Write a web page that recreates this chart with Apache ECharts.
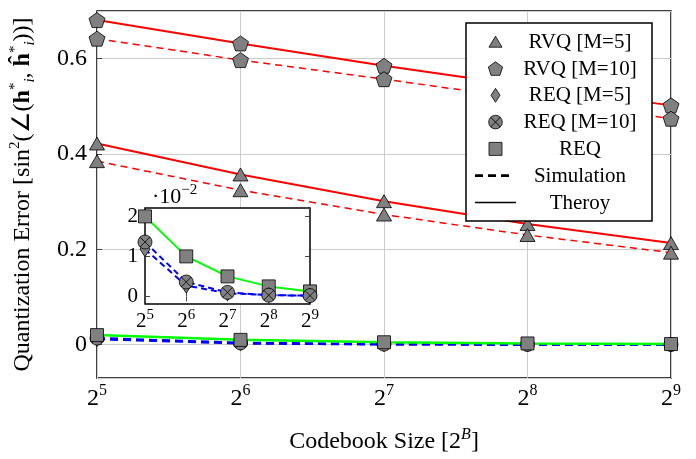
<!DOCTYPE html>
<html><head><meta charset="utf-8">
<script src="https://cdn.jsdelivr.net/npm/echarts@6/dist/echarts.min.js"></script>
<style>html,body{margin:0;padding:0;background:#fff}#c{width:696px;height:459px}</style>
</head><body><div id="c"></div>
<script>
// x categories: exponents of 2 (codebook size 2^B)
const categories = ['5', '6', '7', '8', '9'];
// RVQ M=10
const rvq10Theory = [0.681, 0.632, 0.585, 0.542, 0.502];
const rvq10Sim    = [0.642, 0.597, 0.557, 0.515, 0.474];
// RVQ M=5
const rvq5Theory  = [0.422, 0.357, 0.301, 0.253, 0.213];
const rvq5Sim     = [0.385, 0.324, 0.273, 0.230, 0.193];
// REQ
const reqTheory   = [0.0200, 0.0100, 0.0050, 0.0025, 0.00125];
const req5Sim     = [0.0118, 0.0027, 0.0008, 0.0003, 0.0002];
const req10Sim    = [0.0136, 0.0036, 0.0010, 0.0003, 0.0002];
// legend labels
const legendLabels = ['RVQ [M=5]', 'RVQ [M=10]', 'REQ [M=5]', 'REQ [M=10]', 'REQ', 'Simulation', 'Theroy'];

const FONT = 'Liberation Serif';
const GRAY = '#808080';
const pentagon = 'path://M0,-1L0.951,-0.309L0.588,0.809L-0.588,0.809L-0.951,-0.309Z';
const otimes = 'path://M-1,0A1,1 0 1,0 1,0A1,1 0 1,0 -1,0ZM-0.707,-0.707L0.707,0.707M0.707,-0.707L-0.707,0.707';
const markStyle = {color: GRAY, borderColor: '#000', borderWidth: 0.8};

function supRich(big, small) {
  return {
    b: {fontSize: big, fontFamily: FONT, color: '#000', lineHeight: Math.round(big * 1.3)},
    s: {fontSize: small, fontFamily: FONT, color: '#000', lineHeight: small, verticalAlign: 'top'}
  };
}
const powLabel = v => '{b|2}{s|' + v + '}';

function mk(name, data, opts) {
  return Object.assign({
    name: name, type: 'line', data: data,
    showAllSymbol: true, itemStyle: markStyle,
    emphasis: {disabled: true}, animation: false
  }, opts);
}

const series = [
  mk('RVQ10T', rvq10Theory, {symbol: pentagon, symbolSize: [16, 15], lineStyle: {color: '#ff0000', width: 2}}),
  mk('RVQ10S', rvq10Sim, {symbol: pentagon, symbolSize: [16, 15], lineStyle: {color: '#ff0000', width: 1.5, type: [7, 5]}}),
  mk('RVQ5T', rvq5Theory, {symbol: 'triangle', symbolSize: [15, 13], lineStyle: {color: '#ff0000', width: 2}}),
  mk('RVQ5S', rvq5Sim, {symbol: 'triangle', symbolSize: [15, 13], lineStyle: {color: '#ff0000', width: 1.5, type: [7, 5]}}),
  mk('REQ5S', req5Sim, {symbol: 'diamond', symbolSize: [10, 15], lineStyle: {color: '#0000ff', width: 2.5, type: [8, 5]}}),
  mk('REQ10S', req10Sim, {symbol: otimes, symbolSize: 14, lineStyle: {color: '#0000ff', width: 2.5, type: [8, 5]}}),
  mk('REQT', reqTheory, {symbol: 'rect', symbolSize: 13, lineStyle: {color: '#00ff00', width: 2.5}}),
  // inset copies
  mk('iREQT', reqTheory, {xAxisIndex: 1, yAxisIndex: 1, z: 6, symbol: 'rect', symbolSize: 13, lineStyle: {color: '#00ff00', width: 2}}),
  mk('iREQ5S', req5Sim, {xAxisIndex: 1, yAxisIndex: 1, z: 6, symbol: 'diamond', symbolSize: [10, 15], lineStyle: {color: '#0000ff', width: 2, type: [6, 4]}}),
  mk('iREQ10S', req10Sim, {xAxisIndex: 1, yAxisIndex: 1, z: 6, symbol: otimes, symbolSize: 14, lineStyle: {color: '#0000ff', width: 2, type: [6, 4]}})
];

// legend graphic
const LX = 466, LY = 23, LW = 186, LH = 198;
const rowY = [41.7, 68.5, 95.3, 122.1, 148.9, 175.7, 202.5];
const iconX = 495.5, textX = 580;
const ZL = 50;
const legendEls = [{type: 'rect', z: ZL, shape: {x: LX, y: LY, width: LW, height: LH}, style: {fill: '#fff', stroke: '#000', lineWidth: 1.5}}];
const ist = {fill: GRAY, stroke: '#000', lineWidth: 0.8};
function tri(cx, cy, w, h) { return {type: 'polygon', z: ZL + 1, shape: {points: [[cx, cy - h / 2], [cx + w / 2, cy + h / 2], [cx - w / 2, cy + h / 2]]}, style: ist}; }
function pent(cx, cy, r) {
  const pts = [];
  for (let k = 0; k < 5; k++) { const a = -Math.PI / 2 + k * 2 * Math.PI / 5; pts.push([cx + r * Math.cos(a), cy + r * Math.sin(a) + 0.8]); }
  return {type: 'polygon', z: ZL + 1, shape: {points: pts}, style: ist};
}
legendEls.push(tri(iconX, rowY[0], 13, 11));
legendEls.push(pent(iconX, rowY[1], 7.5));
legendEls.push({type: 'polygon', z: ZL + 1, shape: {points: [[iconX, rowY[2] - 7], [iconX + 4.5, rowY[2]], [iconX, rowY[2] + 7], [iconX - 4.5, rowY[2]]]}, style: ist});
legendEls.push({type: 'circle', z: ZL + 1, shape: {cx: iconX, cy: rowY[3], r: 6.8}, style: ist});
legendEls.push({type: 'line', z: ZL + 2, shape: {x1: iconX - 4.8, y1: rowY[3] - 4.8, x2: iconX + 4.8, y2: rowY[3] + 4.8}, style: {stroke: '#000', lineWidth: 0.9}});
legendEls.push({type: 'line', z: ZL + 2, shape: {x1: iconX + 4.8, y1: rowY[3] - 4.8, x2: iconX - 4.8, y2: rowY[3] + 4.8}, style: {stroke: '#000', lineWidth: 0.9}});
legendEls.push({type: 'rect', z: ZL + 1, shape: {x: iconX - 6.5, y: rowY[4] - 6.5, width: 13, height: 13}, style: ist});
legendEls.push({type: 'line', z: ZL + 1, shape: {x1: 475, y1: rowY[5], x2: 512, y2: rowY[5]}, style: {stroke: '#000', lineWidth: 2.8, lineDash: [8, 5]}});
legendEls.push({type: 'line', z: ZL + 1, shape: {x1: 475, y1: rowY[6], x2: 516, y2: rowY[6]}, style: {stroke: '#000', lineWidth: 1.3}});
legendLabels.forEach((t, i) => {
  legendEls.push({type: 'text', z: ZL + 1, style: {text: t, x: textX, y: rowY[i] + 0.5, fill: '#000', font: '21px "' + FONT + '"', textAlign: 'center', textVerticalAlign: 'middle'}});
});
legendEls.push({type: 'text', z: ZL, style: {x: 152, y: 197, text: '{a|·10}{s|−2}', textVerticalAlign: 'middle',
    rich: {a: {fontSize: 22, fontFamily: FONT, lineHeight: 28}, s: {fontSize: 15, fontFamily: FONT, lineHeight: 15, verticalAlign: 'top'}}}});

const option = {
  animation: false,
  textStyle: {fontFamily: FONT},
  grid: [
    {left: 97, top: 11, width: 574, height: 368, show: true, borderColor: '#000', borderWidth: 1.5, containLabel: false},
    {left: 145, top: 208, width: 165, height: 96, show: true, backgroundColor: '#fff', borderColor: '#000', borderWidth: 1.5, z: 3}
  ],
  xAxis: [
    {type: 'category', gridIndex: 0, data: categories, boundaryGap: false,
      axisLine: {show: false}, axisTick: {show: true, inside: true, length: 5, lineStyle: {color: '#444'}},
      axisLabel: {formatter: powLabel, rich: supRich(24, 16), margin: 5, interval: 0},
      splitLine: {show: true, lineStyle: {color: '#cccccc', width: 1}},
      name: '{t|Codebook Size [2}{s|B}{t|]}', nameLocation: 'middle', nameGap: 49,
      nameTextStyle: {rich: {t: {fontSize: 24, fontFamily: FONT, color: '#000', lineHeight: 30}, s: {fontSize: 16, fontStyle: 'italic', fontFamily: FONT, color: '#000', lineHeight: 16, verticalAlign: 'top'}}}},
    {type: 'category', gridIndex: 1, data: categories, boundaryGap: false, z: 4,
      axisLine: {show: false}, axisTick: {show: true, inside: true, length: 5, lineStyle: {color: '#444'}},
      axisLabel: {formatter: powLabel, rich: supRich(21, 15), margin: 4, interval: 0, hideOverlap: false},
      splitLine: {show: false}},
    {type: 'category', gridIndex: 1, data: categories, boundaryGap: false, position: 'top', z: 4,
      axisLine: {show: false}, axisTick: {show: true, inside: true, length: 5, lineStyle: {color: '#444'}},
      axisLabel: {show: false}, splitLine: {show: false}}
  ],
  yAxis: [
    {type: 'value', gridIndex: 0, min: -0.07, max: 0.7, splitNumber: 4,
      axisLine: {show: false}, axisTick: {show: true, inside: true, length: 5, lineStyle: {color: '#444'}},
      axisLabel: {showMinLabel: false, showMaxLabel: false, margin: 10, fontSize: 24, color: '#000', fontFamily: FONT,
        formatter: v => (Math.abs(v) < 1e-9 ? '0' : v.toFixed(1))},
      splitLine: {show: true, lineStyle: {color: '#cccccc', width: 1}},
      name: '{t|Quantization Error [sin}{s|2}{t|(∠(}{h|h}{s|*}{i|i}{t|, }{h|ĥ}{s|*}{i|i}{t|))]}',
      nameLocation: 'middle', nameRotate: 90, nameGap: 59,
      nameTextStyle: {rich: {
        t: {fontSize: 24, fontFamily: FONT, color: '#000', lineHeight: 30},
        h: {fontSize: 24, fontFamily: FONT, color: '#000', fontWeight: 'bold', lineHeight: 30},
        s: {fontSize: 15, fontFamily: FONT, color: '#000', lineHeight: 15, verticalAlign: 'top'},
        i: {fontSize: 15, fontFamily: FONT, fontStyle: 'italic', color: '#000', lineHeight: 15, verticalAlign: 'bottom'}}}},
    {type: 'value', gridIndex: 1, min: -0.0019, max: 0.0221, splitNumber: 2, z: 4,
      axisLine: {show: false}, axisTick: {show: true, inside: true, length: 5, lineStyle: {color: '#444'}},
      axisLabel: {showMinLabel: false, showMaxLabel: false, margin: 7, fontSize: 21, color: '#000', fontFamily: FONT,
        formatter: v => String(Math.round(v * 100))},
      splitLine: {show: false}},
    {type: 'value', gridIndex: 1, min: -0.0019, max: 0.0221, splitNumber: 2, position: 'right', z: 4,
      axisLine: {show: false}, axisTick: {show: true, inside: true, length: 5, lineStyle: {color: '#444'}},
      axisLabel: {show: false}, splitLine: {show: false}}
  ],
  series: series,
  graphic: {elements: legendEls}
};
const chart = echarts.init(document.getElementById('c'), null, {renderer: 'canvas'});
chart.setOption(option);
</script></body></html>
